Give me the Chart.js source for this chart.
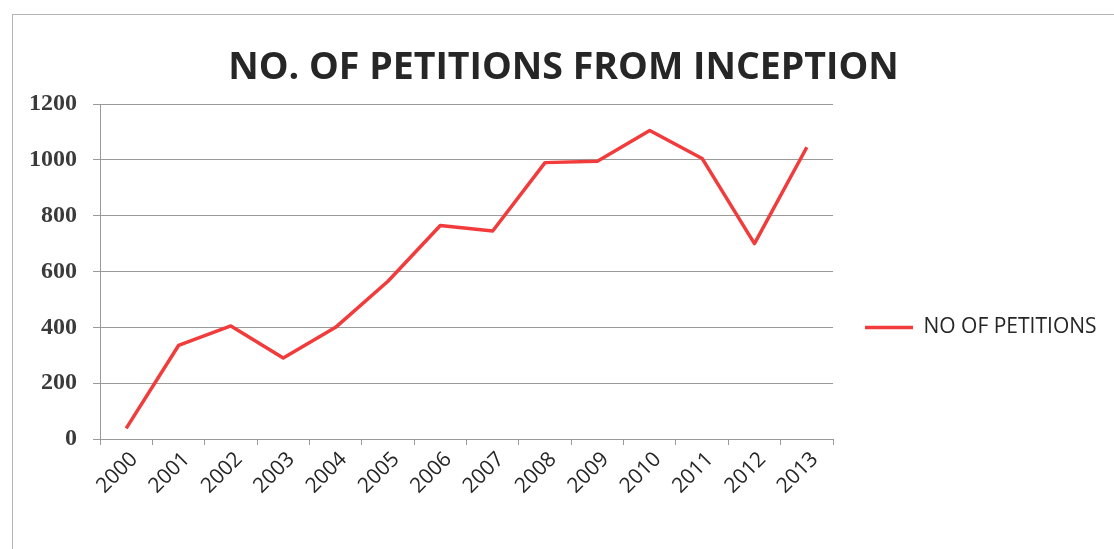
<!DOCTYPE html>
<html><head><meta charset="utf-8">
<script src="https://cdn.jsdelivr.net/npm/chart.js@4.4.0/dist/chart.umd.min.js"></script>
<style>html,body{margin:0;padding:0;background:#fff;overflow:hidden}</style>
</head><body>
<canvas id="c" width="1114" height="549"></canvas>
<script>
const chartTitle = 'NO. OF PETITIONS FROM INCEPTION';
const seriesName = 'NO OF PETITIONS';
const years = ['2000','2001','2002','2003','2004','2005','2006','2007','2008','2009','2010','2011','2012','2013'];
const petitions = [38, 335, 405, 290, 400, 565, 765, 745, 990, 995, 1105, 1005, 700, 1045];
const yTicks = [0, 200, 400, 600, 800, 1000, 1200];

const SANS = "'Open Sans', sans-serif";
const SERIF = "'Liberation Serif', 'DejaVu Serif', serif";

const frame = {
  id: 'frame',
  beforeDraw(chart) {
    const ctx = chart.ctx;
    ctx.save();
    ctx.fillStyle = '#fff';
    ctx.fillRect(0, 0, chart.width, chart.height);
    ctx.strokeStyle = '#b5b5b5';
    ctx.lineWidth = 1;
    ctx.strokeRect(12.5, 14.5, 1200, 700);
    ctx.restore();
  }
};

new Chart(document.getElementById('c'), {
  type: 'line',
  data: {
    labels: years,
    datasets: [{
      label: seriesName,
      data: petitions,
      borderColor: '#f23b3b',
      backgroundColor: '#f23b3b',
      borderWidth: 3.5,
      borderJoinStyle: 'round',
      pointRadius: 0,
      tension: 0,
      fill: false
    }]
  },
  options: {
    responsive: false,
    animation: false,
    devicePixelRatio: 1,
    layout: { padding: { left: 26, right: 13, top: 0, bottom: 0 } },
    plugins: {
      title: {
        display: true,
        text: chartTitle,
        color: '#262626',
        font: { family: SANS, size: 37.5, weight: 'bold', lineHeight: 1.2 },
        padding: { top: 46, bottom: 13 }
      },
      legend: {
        position: 'right',
        align: 'start',
        fullSize: false,
        maxWidth: 268,
        title: { display: true, text: ' ', font: { size: 1, lineHeight: 1 }, padding: { top: 180, bottom: 0 } },
        labels: {
          usePointStyle: true,
          pointStyle: 'line',
          pointStyleWidth: 48,
          padding: 32,
          color: '#262626',
          font: { family: SANS, size: 21 }
        }
      },
      tooltip: { enabled: false }
    },
    scales: {
      x: {
        offset: true,
        grid: { display: true, offset: true, drawOnChartArea: false, drawTicks: true, tickLength: 6, color: '#9a9a9a' },
        border: { color: '#9a9a9a', width: 1 },
        ticks: {
          minRotation: 45, maxRotation: 45, padding: 2, labelOffset: 8,
          color: '#262626',
          font: { family: SANS, size: 21 }
        },
        afterFit(s) { s.height = 110; }
      },
      y: {
        min: 0, max: 1200,
        afterBuildTicks(s) { s.ticks = yTicks.map(v => ({ value: v })); },
        grid: { color: '#9a9a9a', tickLength: 7, lineWidth: 1 },
        border: { color: '#9a9a9a', width: 1 },
        ticks: {
          padding: 16,
          color: '#3a3a3a',
          font: { family: SERIF, size: 24, weight: 'bold' },
          callback: v => String(v)
        },
        afterFit(s) { s.width = 74; }
      }
    }
  },
  plugins: [frame]
});
</script>
</body></html>
